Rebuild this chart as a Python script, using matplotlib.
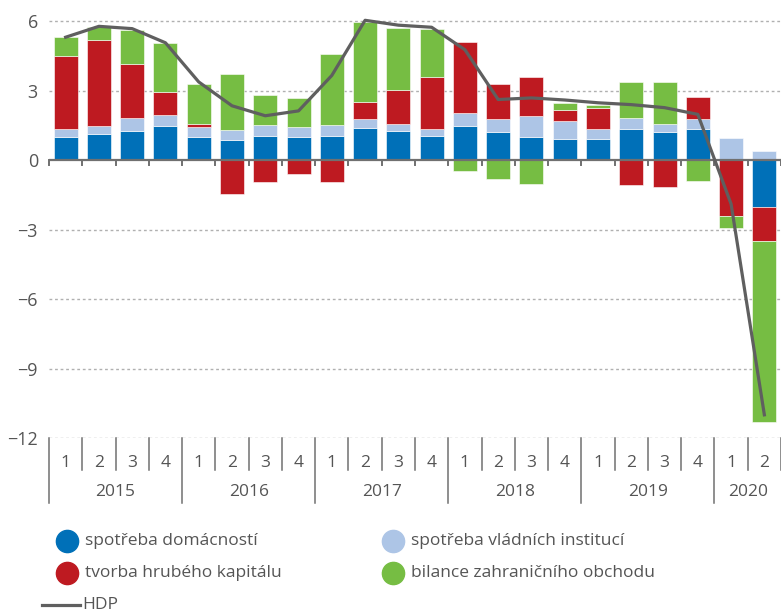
import numpy as np
import matplotlib
matplotlib.use("Agg")
import matplotlib.pyplot as plt
from matplotlib.lines import Line2D

plt.rcParams['font.family'] = ['Open Sans', 'DejaVu Sans']

# quarters 2015Q1 .. 2020Q2
years = ['2015', '2016', '2017', '2018', '2019', '2020']
quarters = ['1', '2', '3', '4'] * 5 + ['1', '2']

domacnosti = [1.00, 1.13, 1.26, 1.48, 1.00, 0.85, 1.05, 1.00, 1.05, 1.40, 1.24,
              1.04, 1.47, 1.19, 1.00, 0.90, 0.90, 1.33, 1.19, 1.33, 0.05, -2.04]
vladni = [0.33, 0.35, 0.57, 0.48, 0.42, 0.44, 0.44, 0.42, 0.44, 0.36, 0.30,
          0.29, 0.57, 0.57, 0.90, 0.79, 0.43, 0.50, 0.35, 0.43, 0.88, 0.39]
kapital = [3.15, 3.71, 2.31, 0.99, 0.13, -1.45, -0.96, -0.60, -0.96, 0.76, 1.47,
           2.24, 3.06, 1.53, 1.67, 0.47, 0.91, -1.10, -1.17, 0.97, -2.40, -1.46]
obchod = [0.83, 0.55, 1.48, 2.11, 1.75, 2.42, 1.32, 1.24, 3.07, 3.43, 2.70,
          2.09, -0.47, -0.83, -1.03, 0.30, 0.15, 1.53, 1.82, -0.89, -0.54, -7.83]
hdp = [5.30, 5.77, 5.67, 5.06, 3.37, 2.34, 1.91, 2.12, 3.65, 6.03, 5.82,
       5.73, 4.76, 2.61, 2.68, 2.59, 2.47, 2.39, 2.26, 1.97, -1.90, -11.00]

names = ['spotřeba domácností', 'spotřeba vládních institucí',
         'tvorba hrubého kapitálu', 'bilance zahraničního obchodu']
colors = ['#0070b8', '#adc5e6', '#be1a21', '#76bd43']
series = [domacnosti, vladni, kapital, obchod]

txt = '#555555'
W, H = 781, 614
fig = plt.figure(figsize=(W / 100, H / 100), dpi=100)

# axes: x from -0.5 to 21.5, y from -12 to 6.5
left, right = 49, 781
y6, y12 = 21, 438
ppu = (y12 - y6) / 18.0
ytop = 6.5
top_px = y6 - (ytop - 6) * ppu
ax = fig.add_axes([left / W, 1 - y12 / H, (right - left) / W, (y12 - top_px) / H])

n = len(hdp)
x = np.arange(n)
pos_base = np.zeros(n)
neg_base = np.zeros(n)
for vals, c in zip(series, colors):
    v = np.array(vals)
    bottom = np.where(v >= 0, pos_base, neg_base)
    ax.bar(x, v, 0.72, bottom=bottom, color=c, edgecolor='white', linewidth=0.4, zorder=3)
    pos_base = pos_base + np.where(v >= 0, v, 0)
    neg_base = neg_base + np.where(v < 0, v, 0)

ax.plot(x, hdp, color='#5f5f5f', lw=2.3, zorder=5, clip_on=False)

ax.set_xlim(-0.5, n - 0.5)
ax.set_ylim(-12, ytop)
for s in ax.spines.values():
    s.set_visible(False)

# grid lines
for g in [6, 3, -3, -6, -9, -12]:
    ax.axhline(g, color='#b0b0b0', lw=1, ls=(0, (2, 2)), zorder=1)
ax.axhline(0, color='#707070', lw=1.6, zorder=4)
for b in np.arange(-0.5, n, 1.0):
    ax.plot([b, b], [0, -0.22], color='#707070', lw=1.4, zorder=4, clip_on=False)

ax.set_yticks([6, 3, 0, -3, -6, -9, -12])
ax.set_yticklabels(['6', '3', '0', '\u22123', '\u22126', '\u22129', '\u221212'])
ax.tick_params(axis='y', length=0, pad=8, labelsize=13, labelcolor=txt)
ax.set_xticks([])

# category axis below plot
tr = ax.get_xaxis_transform()
hpx = (y12 - top_px)
def ay(px_below):
    return -px_below / hpx

for i in range(n + 1):
    b = i - 0.5
    year_sep = (i % 4 == 0)
    ax.plot([b, b], [0, ay(65 if year_sep else 32)], transform=tr,
            color='#707070', lw=1.1, clip_on=False)
for i, q in enumerate(quarters):
    ax.text(i, ay(25), q, transform=tr, ha='center', va='center',
            fontsize=12.5, color=txt)
for k, yr in enumerate(years):
    start = 4 * k
    end = min(4 * k + 3, n - 1)
    ax.text((start + end) / 2, ay(54), yr, transform=tr, ha='center', va='center',
            fontsize=12.5, color=txt)

# legend
leg_items = [(67, 541, 0), (393, 541, 1), (67, 573, 2), (393, 573, 3)]
for cx, cy, k in leg_items:
    fig.add_artist(Line2D([cx / W], [1 - cy / H], marker='o', markersize=16,
                          color=colors[k], lw=0))
    fig.text((cx + 18) / W, 1 - cy / H, names[k], ha='left', va='center',
             fontsize=12.5, color=txt)
fig.add_artist(Line2D([42 / W, 80 / W], [1 - 605 / H, 1 - 605 / H], color='#5f5f5f', lw=2.3))
fig.text(82 / W, 1 - 605 / H, 'HDP', ha='left', va='center', fontsize=12.5, color=txt)

fig.savefig('out.png', dpi=100)
